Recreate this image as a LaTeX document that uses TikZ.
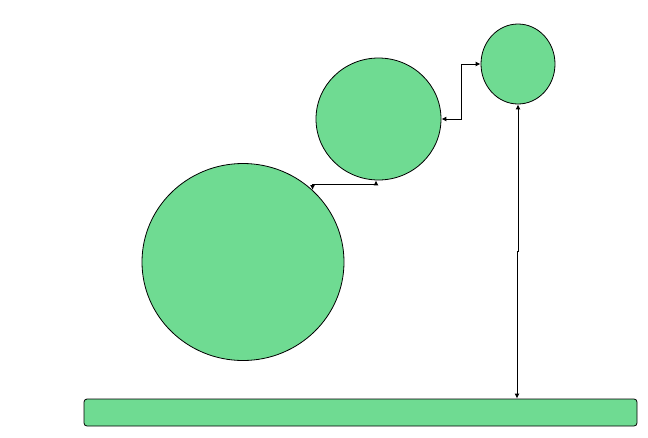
\documentclass[tikz,border=0pt]{standalone}
\usetikzlibrary{shapes.geometric,arrows.meta}
\definecolor{leaf}{RGB}{111,219,146}
\tikzset{
  blob/.style={ellipse,draw=black,fill=leaf,line width=0.8pt,inner sep=0pt},
  conn/.style={draw=black,line width=1pt,{Latex[length=5pt,width=5pt]}-{Latex[length=5pt,width=5pt]}}
}
\begin{document}
\begin{tikzpicture}[x=1pt,y=-1pt]
\useasboundingbox (0,0) rectangle (648,437);
\node[blob,minimum width=202pt,minimum height=197pt] (big) at (243,262) {};
\node[blob,minimum width=125pt,minimum height=122pt] (mid) at (378.5,119) {};
\node[blob,minimum width=74pt,minimum height=80pt] (small) at (518,64) {};
\node[draw=black,fill=leaf,line width=0.8pt,rounded corners=3pt,minimum width=553pt,minimum height=27pt,inner sep=0pt] (bar) at (360.5,412.5) {};
\coordinate (c1) at (376,184);
\coordinate (c2) at (461,119);
\coordinate (c3) at (518,251);
\coordinate (c4) at (517,251);
\path[conn] (big.46) |- (c1) -- (mid.south -| c1);
\path[conn] (mid.east) -- (c2) |- (small.west);
\path[conn] (small.south) -- (c3) -- (c4) -- (bar.north -| c4);
\end{tikzpicture}
\end{document}
